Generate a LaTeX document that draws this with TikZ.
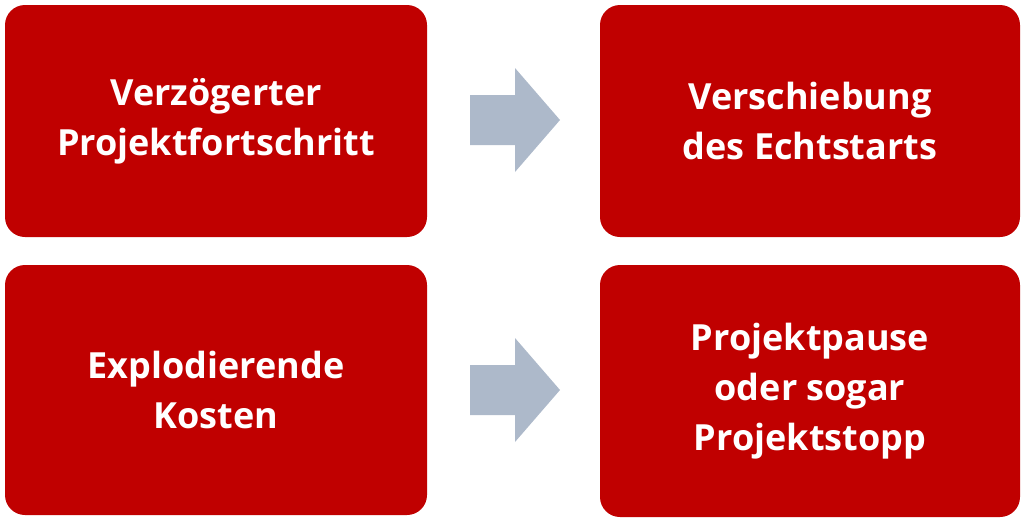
\documentclass[tikz,border=0pt]{standalone}
\usepackage{fontspec}
\setmainfont{Open Sans}
\definecolor{boxred}{HTML}{C00000}
\definecolor{arrowgray}{HTML}{ADB9CA}
\begin{document}
\begin{tikzpicture}[x=1pt,y=-1pt,
  redbox/.style={fill=boxred,rounded corners=20pt},
  lbl/.style={text=white,font=\bfseries\fontsize{36}{50}\selectfont,align=center},
  grayarrow/.style={fill=arrowgray}]
\useasboundingbox (0,0) rectangle (1024,528);
\fill[redbox] (5,5) rectangle (427,237);
\fill[redbox] (600,5) rectangle (1020,237);
\fill[redbox] (5,265) rectangle (427,515);
\fill[redbox] (600,265) rectangle (1020,517);
\node[lbl] (a) at (216,121) {Verzögerter\\Projektfortschritt};
\node[lbl] (b) at (810,121) {Verschiebung\\des Echtstarts};
\node[lbl] (c) at (216,390) {Explodierende\\Kosten};
\node[lbl] (d) at (810,391) {Projektpause\\oder sogar\\Projektstopp};
\fill[grayarrow] (470,95) -- (515,95) -- (515,68) -- (560,120) -- (515,172) -- (515,145) -- (470,145) -- cycle;
\fill[grayarrow] (470,365) -- (515,365) -- (515,338) -- (560,390) -- (515,442) -- (515,415) -- (470,415) -- cycle;
\end{tikzpicture}
\end{document}
